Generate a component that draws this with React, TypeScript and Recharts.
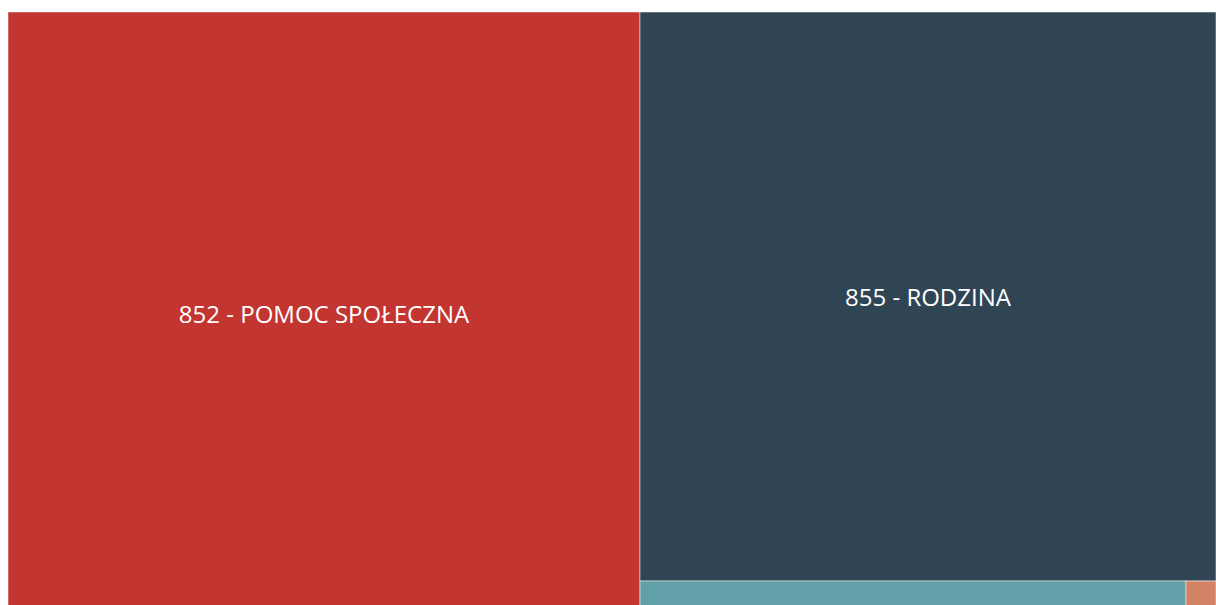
import { Treemap } from "recharts";

const names = [
  "852 - POMOC SPOŁECZNA",
  "855 - RODZINA",
  "854 - EDUKACYJNA OPIEKA WYCHOWAWCZA",
  "853 - POZOSTAŁE ZADANIA W ZAKRESIE POLITYKI SPOŁECZNEJ",
  "851 - OCHRONA ZDROWIA",
];
const values = [379900, 327700, 18000, 820, 200];
const colors = ["#c23531", "#2f4554", "#61a0a8", "#d48265", "#91c7ae"];

const data = names.map((name, i) => ({ name, size: values[i], fill: colors[i] }));

function Cell(props: any) {
  const { x, y, width, height, name, depth, fill } = props;
  if (depth === 0) return null;
  const showLabel = width > 320 && height > 60;
  return (
    <g>
      <rect
        x={x}
        y={y}
        width={width}
        height={height}
        fill={fill}
        stroke="#ffffff"
        strokeOpacity={0.5}
        strokeWidth={1}
      />
      {showLabel && (
        <text
          x={x + width / 2}
          y={y + height / 2}
          textAnchor="middle"
          dominantBaseline="central"
          fill="#ffffff"
          fontSize={24}
          fontFamily="'Open Sans', sans-serif"
        >
          {name}
        </text>
      )}
    </g>
  );
}

export default function App() {
  return (
    <div
      style={{
        position: "fixed",
        top: 12,
        left: 8,
        width: 1208,
        height: 593,
        overflow: "hidden",
        fontFamily: "'Open Sans', sans-serif",
      }}
    >
      <Treemap
        width={1208}
        height={602}
        data={data}
        dataKey="size"
        nameKey="name"
        isAnimationActive={false}
        content={<Cell />}
      />
    </div>
  );
}
